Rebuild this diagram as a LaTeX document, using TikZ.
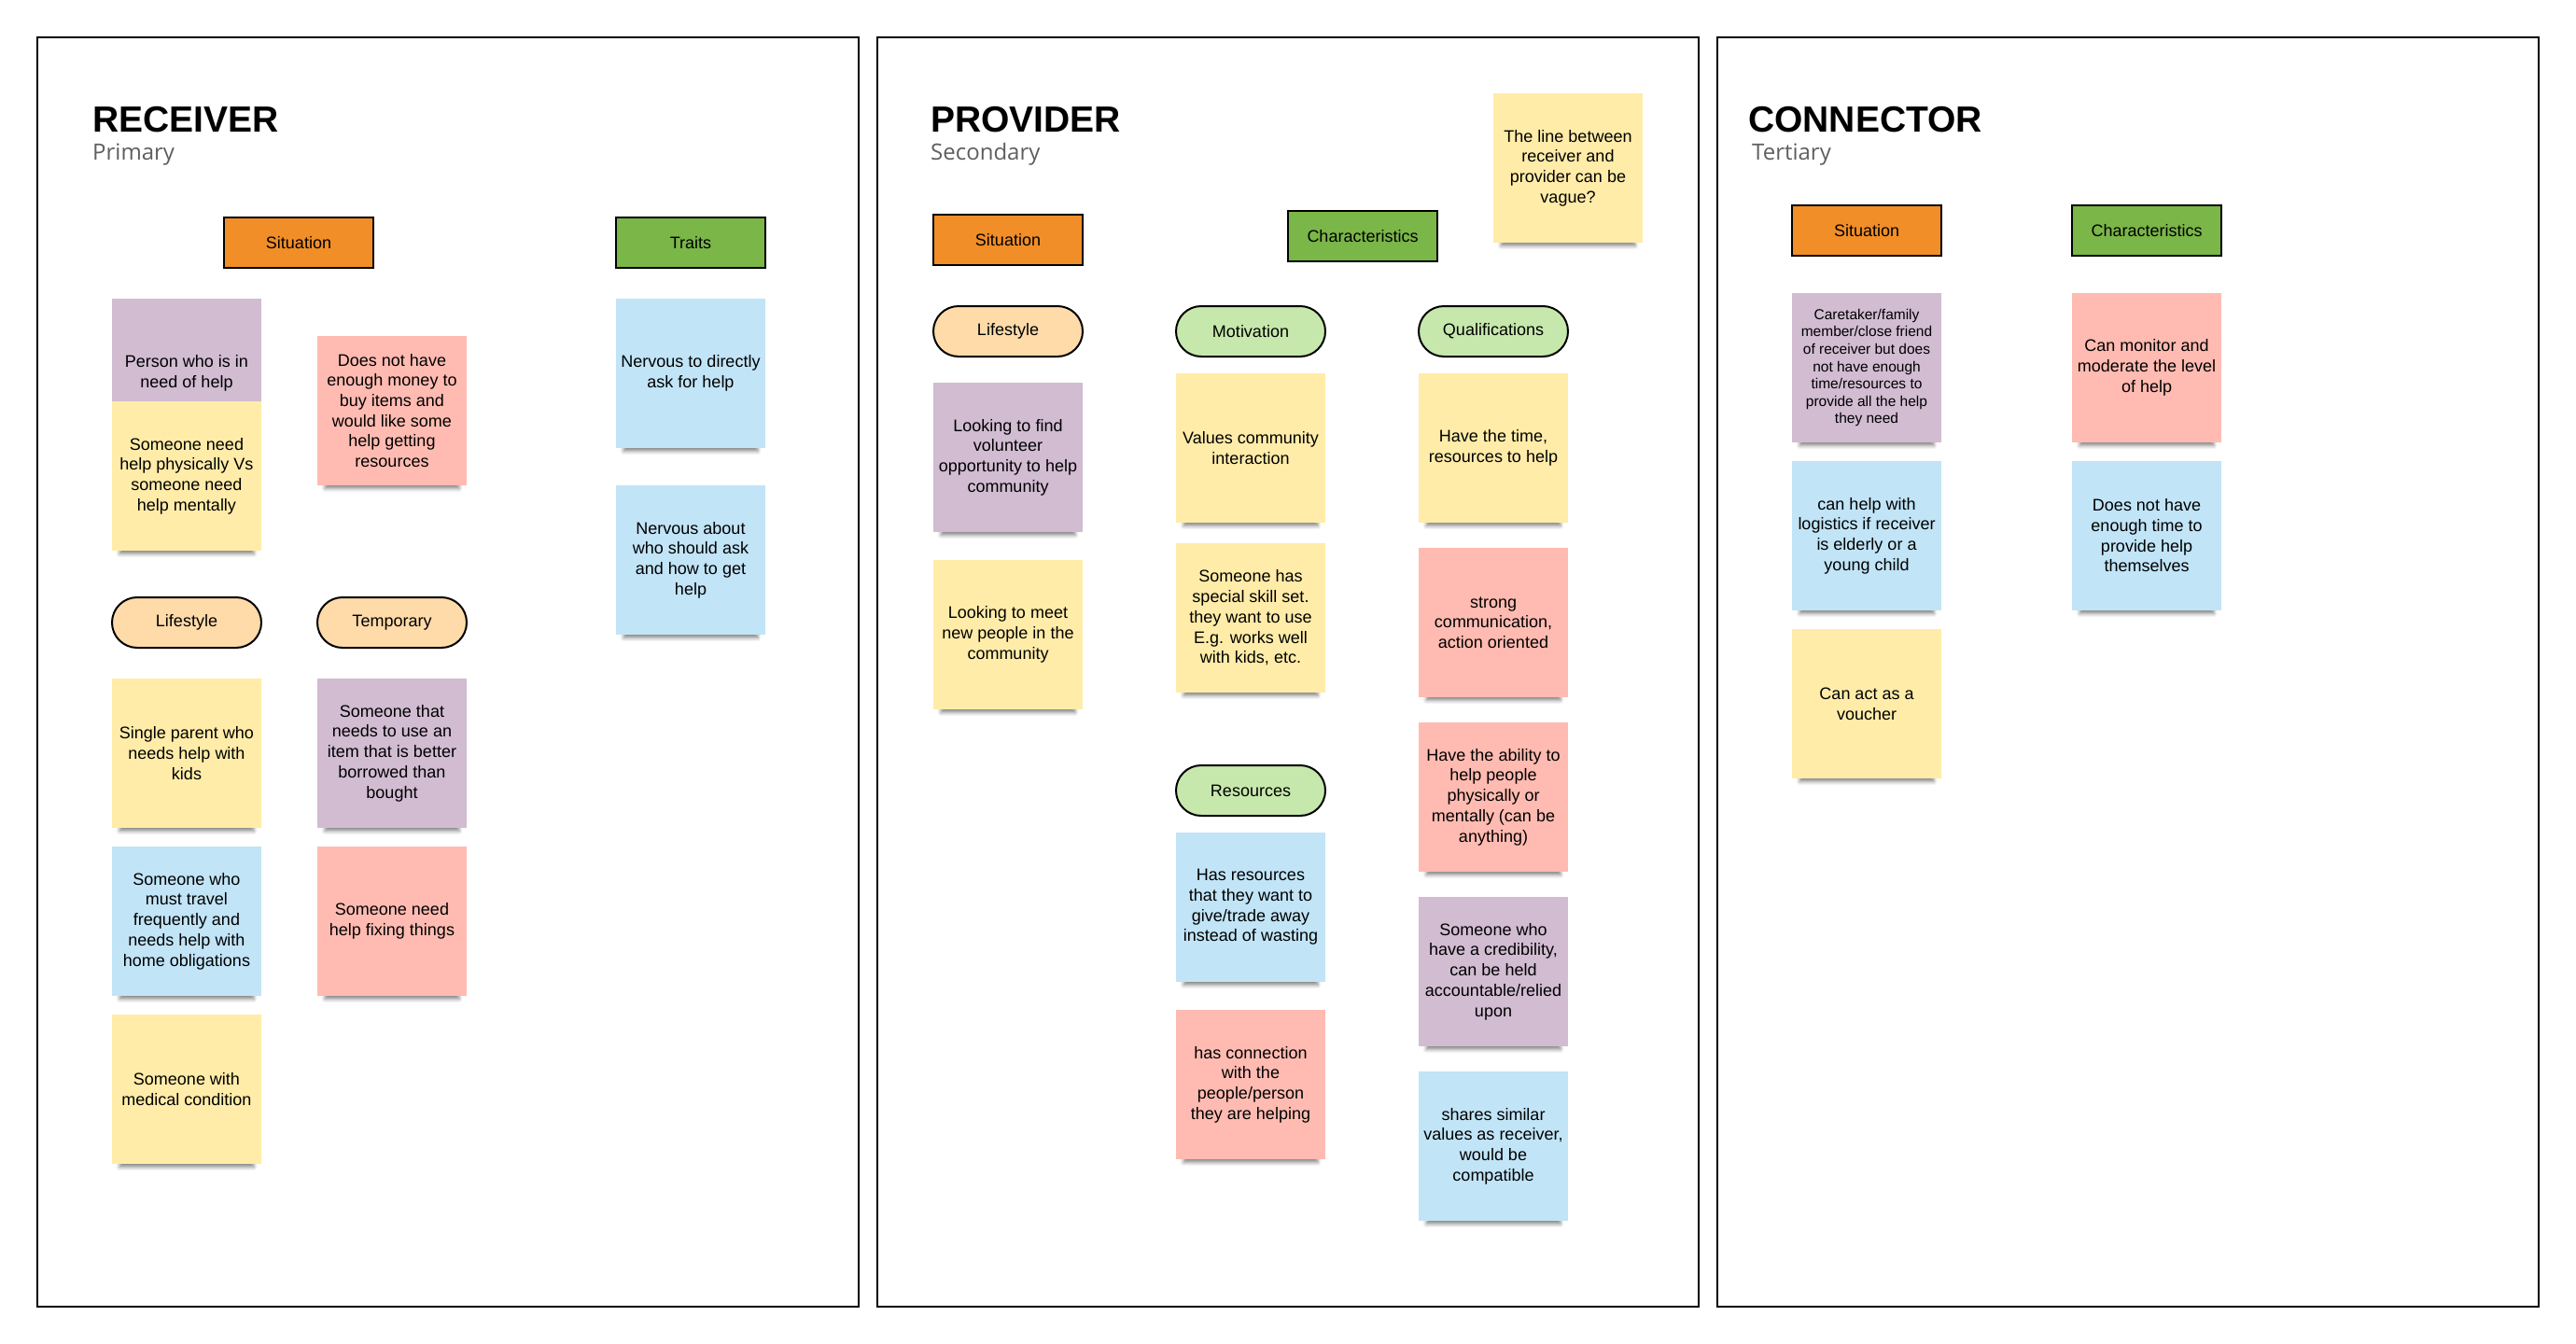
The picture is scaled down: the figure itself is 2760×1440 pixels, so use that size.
\documentclass[tikz,border=0pt]{standalone}
\usepackage{fontspec}
\setmainfont{Liberation Sans}
\newfontfamily\subfont{Open Sans}
\usetikzlibrary{shadows,shadows.blur}

\definecolor{sitorange}{HTML}{F18E27}
\definecolor{catgreen}{HTML}{7AB648}
\definecolor{pillorange}{HTML}{FEDBA9}
\definecolor{pillgreen}{HTML}{C7E8AC}
\definecolor{notepurple}{HTML}{D1BCD2}
\definecolor{noteyellow}{HTML}{FFECA8}
\definecolor{notepink}{HTML}{FFBBB1}
\definecolor{noteblue}{HTML}{C1E4F7}
\definecolor{subgray}{HTML}{5E5E5E}

\tikzset{
  panel/.style={draw=black,line width=2.5pt},
  cat/.style={draw=black,line width=2pt,minimum width=160pt,minimum height=54pt,
    inner sep=0pt,font=\fontsize{18}{21.7}\selectfont},
  pill/.style={cat,rounded corners=27pt},
  note/.style={minimum width=160pt,minimum height=160pt,inner sep=0pt,align=center,
    font=\fontsize{18}{21.7}\selectfont,
    blur shadow={shadow xshift=0pt,shadow yshift=-13pt,shadow scale=0.9,
      shadow blur radius=4pt,shadow opacity=45}},
  smallnote/.style={note,font=\fontsize{15.5}{18.6}\selectfont},
  title/.style={anchor=base west,inner sep=0pt,font=\fontsize{39}{44}\selectfont\bfseries},
  subtitle/.style={anchor=base west,inner sep=0pt,text=subgray,font=\subfont\fontsize{24}{28}\selectfont},
}

\begin{document}
\begin{tikzpicture}[x=1pt,y=-1pt]
  \useasboundingbox (0,0) rectangle (2760,1440);

  % Panels
  \draw[panel] (40,40) rectangle (920,1400);
  \draw[panel] (940,40) rectangle (1820,1400);
  \draw[panel] (1840,40) rectangle (2720,1400);

  % Receiver
  \node (rtitle) at (99,141) [title] {RECEIVER};
  \node (rsub) at (99,171) [subtitle] {Primary};
  \node (rsit) at (320,260) [cat,fill=sitorange] {Situation};
  \node (rtraits) at (740,260) [cat,fill=catgreen] {Traits};
  \node (rperson) at (200,400) [note,fill=notepurple] {Person who is in\\need of help};
  \node (rneed) at (200,510) [note,fill=noteyellow] {Someone need\\help physically Vs\\someone need\\help mentally};
  \node (rmoney) at (420,440) [note,fill=notepink] {Does not have\\enough money to\\buy items and\\would like some\\help getting\\resources};
  \node (rdirect) at (740,400) [note,fill=noteblue] {Nervous to directly\\ask for help};
  \node (rabout) at (740,600) [note,fill=noteblue] {Nervous about\\who should ask\\and how to get\\help};
  \node (rlife) at (200,667) [pill,fill=pillorange] {Lifestyle};
  \node (rtemp) at (420,667) [pill,fill=pillorange] {Temporary};
  \node (rparent) at (200,807) [note,fill=noteyellow] {Single parent who\\needs help with\\kids};
  \node (rborrow) at (420,807) [note,fill=notepurple] {Someone that\\needs to use an\\item that is better\\borrowed than\\bought};
  \node (rtravel) at (200,987) [note,fill=noteblue] {Someone who\\must travel\\frequently and\\needs help with\\home obligations};
  \node (rfix) at (420,987) [note,fill=notepink] {Someone need\\help fixing things};
  \node (rmedical) at (200,1167) [note,fill=noteyellow] {Someone with\\medical condition};

  % Provider
  \node (ptitle) at (997,141) [title] {PROVIDER};
  \node (psub) at (997,171) [subtitle] {Secondary};
  \node (psit) at (1080,257) [cat,fill=sitorange] {Situation};
  \node (pchar) at (1460,253) [cat,fill=catgreen] {Characteristics};
  \node (pvague) at (1680,180) [note,fill=noteyellow] {The line between\\receiver and\\provider can be\\vague?};
  \node (plife) at (1080,355) [pill,fill=pillorange] {Lifestyle};
  \node (pmot) at (1340,355) [pill,fill=pillgreen] {Motivation};
  \node (pqual) at (1600,355) [pill,fill=pillgreen] {Qualifications};
  \node (pfind) at (1080,490) [note,fill=notepurple] {Looking to find\\volunteer\\opportunity to help\\community};
  \node (pvalues) at (1340,480) [note,fill=noteyellow] {Values community\\interaction};
  \node (ptime) at (1600,480) [note,fill=noteyellow] {Have the time,\\resources to help};
  \node (pmeet) at (1080,680) [note,fill=noteyellow] {Looking to meet\\new people in the\\community};
  \node (pskill) at (1340,662) [note,fill=noteyellow] {Someone has\\special skill set.\\they want to use\\E.g. works well\\with kids, etc.};
  \node (pcomm) at (1600,667) [note,fill=notepink] {strong\\communication,\\action oriented};
  \node (pability) at (1600,854) [note,fill=notepink] {Have the ability to\\help people\\physically or\\mentally (can be\\anything)};
  \node (pres) at (1340,847) [pill,fill=pillgreen] {Resources};
  \node (phas) at (1340,972) [note,fill=noteblue] {Has resources\\that they want to\\give/trade away\\instead of wasting};
  \node (pcred) at (1600,1041) [note,fill=notepurple] {Someone who\\have a credibility,\\can be held\\accountable/relied\\upon};
  \node (pconn) at (1340,1162) [note,fill=notepink] {has connection\\with the\\people/person\\they are helping};
  \node (pshares) at (1600,1228) [note,fill=noteblue] {shares similar\\values as receiver,\\would be\\compatible};

  % Connector
  \node (ctitle) at (1873,141) [title] {CONNECTOR};
  \node (csub) at (1877,171) [subtitle] {Tertiary};
  \node (csit) at (2000,247) [cat,fill=sitorange] {Situation};
  \node (cchar) at (2300,247) [cat,fill=catgreen] {Characteristics};
  \node (ccare) at (2000,394) [smallnote,fill=notepurple] {Caretaker/family\\member/close friend\\of receiver but does\\not have enough\\time/resources to\\provide all the help\\they need};
  \node (cmon) at (2300,394) [note,fill=notepink] {Can monitor and\\moderate the level\\of help};
  \node (clog) at (2000,574) [note,fill=noteblue] {can help with\\logistics if receiver\\is elderly or a\\young child};
  \node (ctime) at (2300,574) [note,fill=noteblue] {Does not have\\enough time to\\provide help\\themselves};
  \node (cvouch) at (2000,754) [note,fill=noteyellow] {Can act as a\\voucher};
\end{tikzpicture}
\end{document}
